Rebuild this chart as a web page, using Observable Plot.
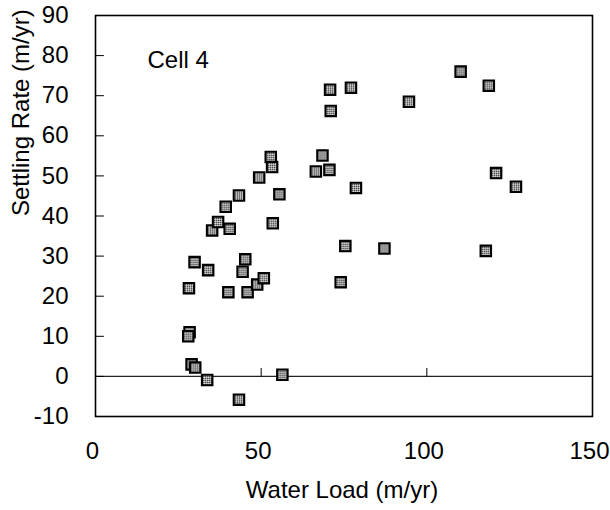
<!DOCTYPE html>
<html>
<head>
<meta charset="utf-8">
<script src="https://cdn.jsdelivr.net/npm/d3@7"></script>
<script src="https://cdn.jsdelivr.net/npm/@observablehq/plot@0.6"></script>
<style>
  html, body { margin: 0; padding: 0; background: #fff; }
  #chart { width: 610px; height: 510px; }
</style>
</head>
<body>
<div id="chart"></div>
<script>
// Water load (m/yr) and settling rate (m/yr), Cell 4
const waterLoad = [28.2, 28.4, 28.0, 29.0, 30.1, 29.9, 33.7, 34.0, 35.2, 37.0,
  39.3, 40.5, 40.1, 43.3, 43.3, 44.4, 45.2, 45.9, 48.8, 49.4,
  50.8, 52.9, 53.3, 53.5, 55.5, 56.4, 66.5, 68.5, 70.8, 71.0,
  70.6, 74.0, 75.4, 77.1, 78.6, 87.2, 94.6, 110.2, 117.8, 118.7,
  120.9, 126.9];
const settlingRate = [22.0, 11.0, 10.0, 3.0, 2.2, 28.5, -0.9, 26.5, 36.4, 38.5,
  42.3, 36.8, 21.0, -5.8, 45.1, 26.1, 29.2, 21.0, 22.9, 49.6,
  24.5, 54.7, 52.2, 38.2, 45.4, 0.4, 51.1, 55.1, 71.5, 66.2,
  51.5, 23.5, 32.5, 72.0, 47.0, 31.9, 68.5, 76.0, 31.3, 72.5,
  50.7, 47.3];
const xTicks = [0, 50, 100, 150];
const yTicks = [-10, 0, 10, 20, 30, 40, 50, 60, 70, 80, 90];
const panelLabel = "Cell 4";
const xTitle = "Water Load (m/yr)";
const yTitle = "Settling Rate (m/yr)";

const points = waterLoad.map((x, i) => ({x, y: settlingRate[i]}));

const tickShape = {
  draw(context, l) { context.moveTo(0, 0); context.lineTo(0, -l); }
};

const defsMark = () => {
  const defs = d3.create("svg:defs");
  const p = defs.append("pattern")
    .attr("id", "stipple")
    .attr("patternUnits", "userSpaceOnUse")
    .attr("width", 2).attr("height", 2);
  p.append("rect").attr("width", 2).attr("height", 2).attr("fill", "#a0a0a0");
  p.append("rect").attr("width", 1).attr("height", 1).attr("fill", "#3c3c3c");
  p.append("rect").attr("x", 1).attr("y", 1).attr("width", 1).attr("height", 1).attr("fill", "#d8d8d8");
  return defs.node();
};

const chart = Plot.plot({
  width: 610,
  height: 510,
  marginLeft: 95,
  marginRight: 18,
  marginTop: 15,
  marginBottom: 94,
  style: {fontFamily: "'Liberation Sans', Arial, sans-serif", fontSize: "24px", color: "black", background: "white"},
  x: {domain: [0, 150], ticks: xTicks},
  y: {domain: [-10, 90], ticks: yTicks},
  marks: [
    defsMark,
    Plot.ruleY([0], {stroke: "#222", strokeWidth: 1.2}),
    Plot.vector(xTicks.slice(1, -1), {x: d => d, y: 0, length: 8, rotate: 0, anchor: "start", shape: tickShape, stroke: "black", strokeWidth: 1}),
    Plot.vector(yTicks, {y: d => d, frameAnchor: "left", length: 8, rotate: 90, anchor: "start", shape: tickShape, stroke: "black", strokeWidth: 1}),
    Plot.frame({stroke: "black", strokeWidth: 1.6}),
    Plot.axisX({ticks: xTicks, tickSize: 0, tickPadding: 25, label: null, dx: -3, fontSize: 24, tickFormat: d => String(d)}),
    Plot.axisY({ticks: yTicks, tickSize: 0, tickPadding: 27, label: null, fontSize: 24, tickFormat: d => String(d)}),
    Plot.dot(points, {x: "x", y: "y", symbol: "square", r: 5.9, fill: "url(#stipple)", stroke: "#000", strokeWidth: 2.1}),
    Plot.text([panelLabel], {frameAnchor: "top-left", dx: 52, dy: 45, textAnchor: "start", lineAnchor: "middle", fontSize: 24}),
    Plot.text([xTitle], {frameAnchor: "bottom", dx: -2, dy: 74, lineAnchor: "middle", fontSize: 24}),
    Plot.text([yTitle], {frameAnchor: "left", dx: -74, rotate: -90, lineAnchor: "middle", fontSize: 24})
  ]
});
document.getElementById("chart").appendChild(chart);
</script>
</body>
</html>
